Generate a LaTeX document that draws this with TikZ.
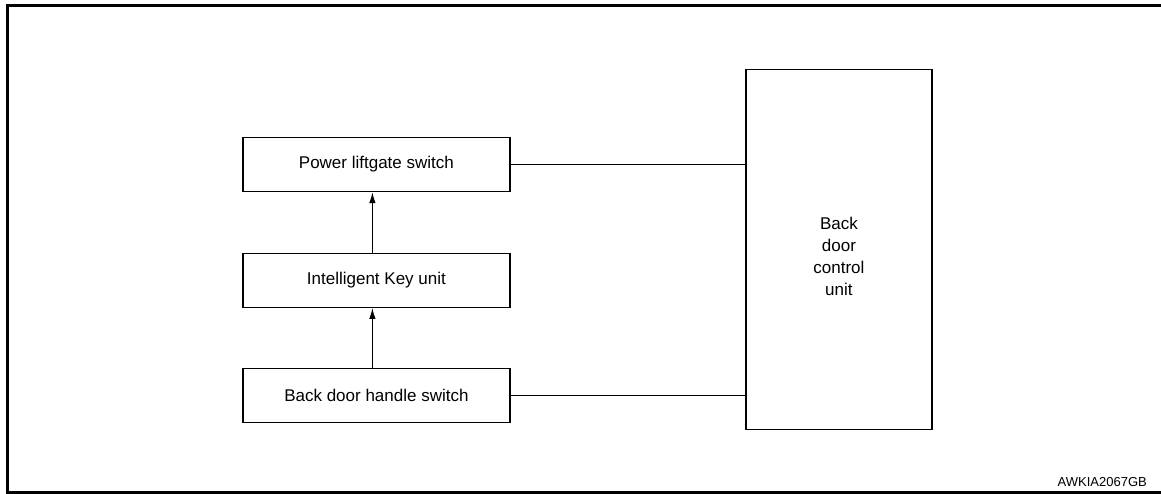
\documentclass[tikz,border=0pt]{standalone}
\usepackage{fontspec}
\setmainfont{Liberation Sans}
\usetikzlibrary{arrows.meta}
\usetikzlibrary{positioning}
\tikzset{unit/.style = {draw, line width=1.3pt, inner sep=0,
                        minimum width=267, minimum height=54,
                        font=\fontsize{17}{22}\selectfont}}
\tikzset{arr/.style = {-{Latex[length=11pt,width=6.5pt]}, line width=1.2pt}}
\tikzset{wire/.style = {line width=1.2pt}}

\begin{document}
\begin{tikzpicture}[x=1pt, y=-1pt]
    \useasboundingbox (0, 0) rectangle (1161, 494);
    \draw [line width=3pt] (1161, 5.5) -- (7.5, 5.5) -- (7.5, 492.5) -- (1161, 492.5);

    \node [unit] (pls) at (376.4, 164.5) {Power liftgate switch};
    \node [unit] (iku) at (376.4, 280.3) {Intelligent Key unit};
    \node [unit] (bdh) at (376.4, 395.5) {Back door handle switch};
    \node [unit, minimum width=186, minimum height=360] (bdc) at (838.9, 249.3) {};
    \node [align=center, font=\fontsize{17}{22}\selectfont] (bdct) at (838.9, 256) {Back\\door\\control\\unit};

    \draw [arr] ([xshift=-4]bdh.north) -- ([xshift=-4]iku.south);
    \draw [arr] ([xshift=-4]iku.north) -- ([xshift=-4]pls.south);
    \draw [wire] (pls.east) -- (pls.east -| bdc.west);
    \draw [wire] (bdh.east) -- (bdh.east -| bdc.west);

    \node [anchor=base east, inner sep=0, font=\fontsize{13}{15}\selectfont] (code) at (1147, 486.5) {AWKIA2067GB};
\end{tikzpicture}
\end{document}
